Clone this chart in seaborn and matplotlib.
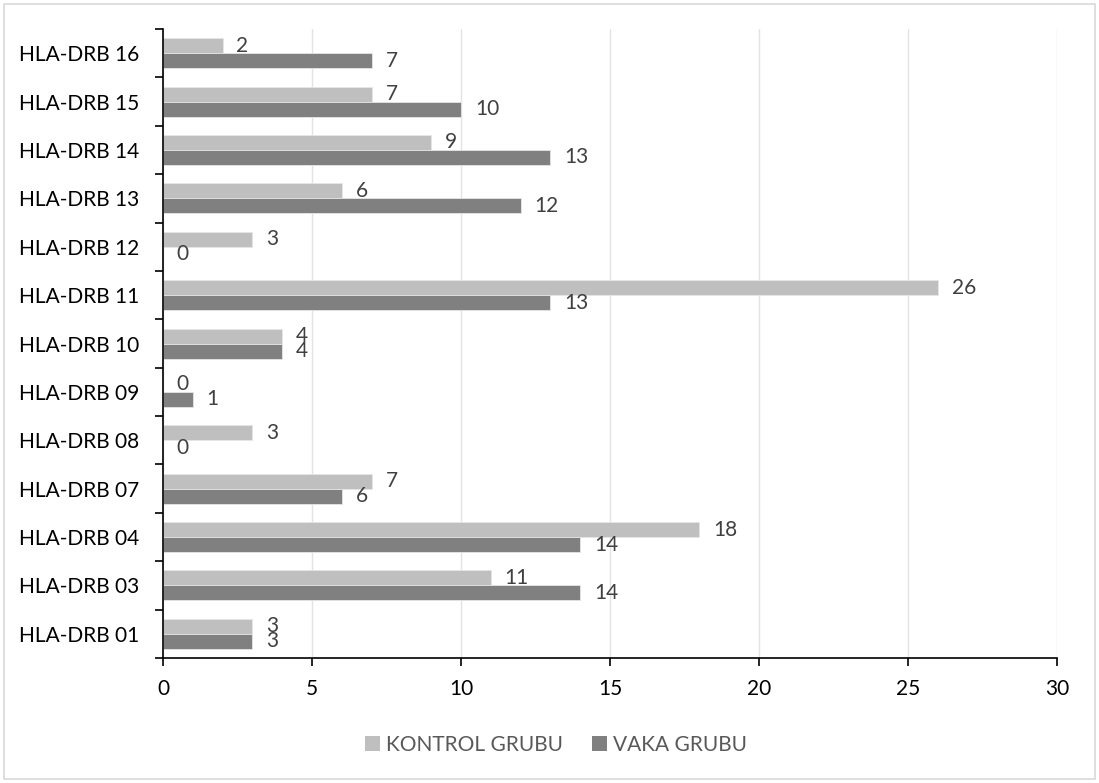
import matplotlib
matplotlib.use("Agg")
import matplotlib.pyplot as plt
import matplotlib.patches as mpatches
import seaborn as sns
import pandas as pd
import numpy as np

alleles = ["HLA-DRB 16", "HLA-DRB 15", "HLA-DRB 14", "HLA-DRB 13", "HLA-DRB 12",
           "HLA-DRB 11", "HLA-DRB 10", "HLA-DRB 09", "HLA-DRB 08", "HLA-DRB 07",
           "HLA-DRB 04", "HLA-DRB 03", "HLA-DRB 01"]
kontrol = [2, 7, 9, 6, 3, 26, 4, 0, 3, 7, 18, 11, 3]
vaka = [7, 10, 13, 12, 0, 13, 4, 1, 0, 6, 14, 14, 3]
groups = ["KONTROL GRUBU", "VAKA GRUBU"]
x_ticks = [0, 5, 10, 15, 20, 25, 30]

df = pd.DataFrame({
    "allele": alleles * 2,
    "count": kontrol + vaka,
    "group": [groups[0]] * len(alleles) + [groups[1]] * len(alleles),
})

sns.set_theme(style="white")
plt.rcParams["font.family"] = ["Lato", "DejaVu Sans"]

FS = 15

fig = plt.figure(figsize=(10.99, 7.83), dpi=100)
ax = fig.add_axes([0.1483, 0.1596, 0.9618 - 0.1483, 0.963 - 0.1596])

palette = {groups[0]: "#BFBFBF", groups[1]: "#808080"}
sns.barplot(data=df, y="allele", x="count", hue="group", order=alleles,
            hue_order=groups, palette=palette, orient="h", width=0.62,
            saturation=1, edgecolor="#E6E6E6", linewidth=0.6, ax=ax,
            legend=False)

for cont in ax.containers:
    ax.bar_label(cont, fmt="%d", padding=10, fontsize=FS, color="#404040")

ax.set_xlim(0, 30)
ax.set_ylim(len(alleles) - 0.5, -0.5)
ax.set_xticks(x_ticks)
ax.set_xticklabels([str(t) for t in x_ticks], fontsize=FS, color="#000000")
ax.tick_params(axis="x", which="major", length=6, width=1.2, direction="out",
               color="#000000", pad=9, bottom=True)
ax.tick_params(axis="y", which="major", length=0, pad=17, labelsize=FS,
               labelcolor="#000000")
ax.set_yticks(np.arange(-0.5, len(alleles), 1.0), minor=True)
ax.tick_params(axis="y", which="minor", length=6, width=1.2, direction="out",
               color="#000000", left=True)
ax.set_xlabel("")
ax.set_ylabel("")

ax.grid(axis="x", color="#E3E3E3", linewidth=1)
ax.set_axisbelow(True)
for side in ["top", "right"]:
    ax.spines[side].set_visible(False)
for side in ["left", "bottom"]:
    ax.spines[side].set_color("#000000")
    ax.spines[side].set_linewidth(1.2)

handles = [mpatches.Patch(facecolor=palette[g], edgecolor="none", label=g) for g in groups]
fig.legend(handles=handles, loc="center", bbox_to_anchor=(0.506, 0.049), ncol=2,
           frameon=False, fontsize=FS, labelcolor="#595959", handlelength=0.7,
           handleheight=0.7, handletextpad=0.3, columnspacing=1.4)

fig.patches.append(mpatches.Rectangle((0.004, 0.005), 0.992, 0.99,
                                      transform=fig.transFigure, fill=False,
                                      edgecolor="#D9D9D9", linewidth=1.2))

fig.savefig("out.png", dpi=100)
